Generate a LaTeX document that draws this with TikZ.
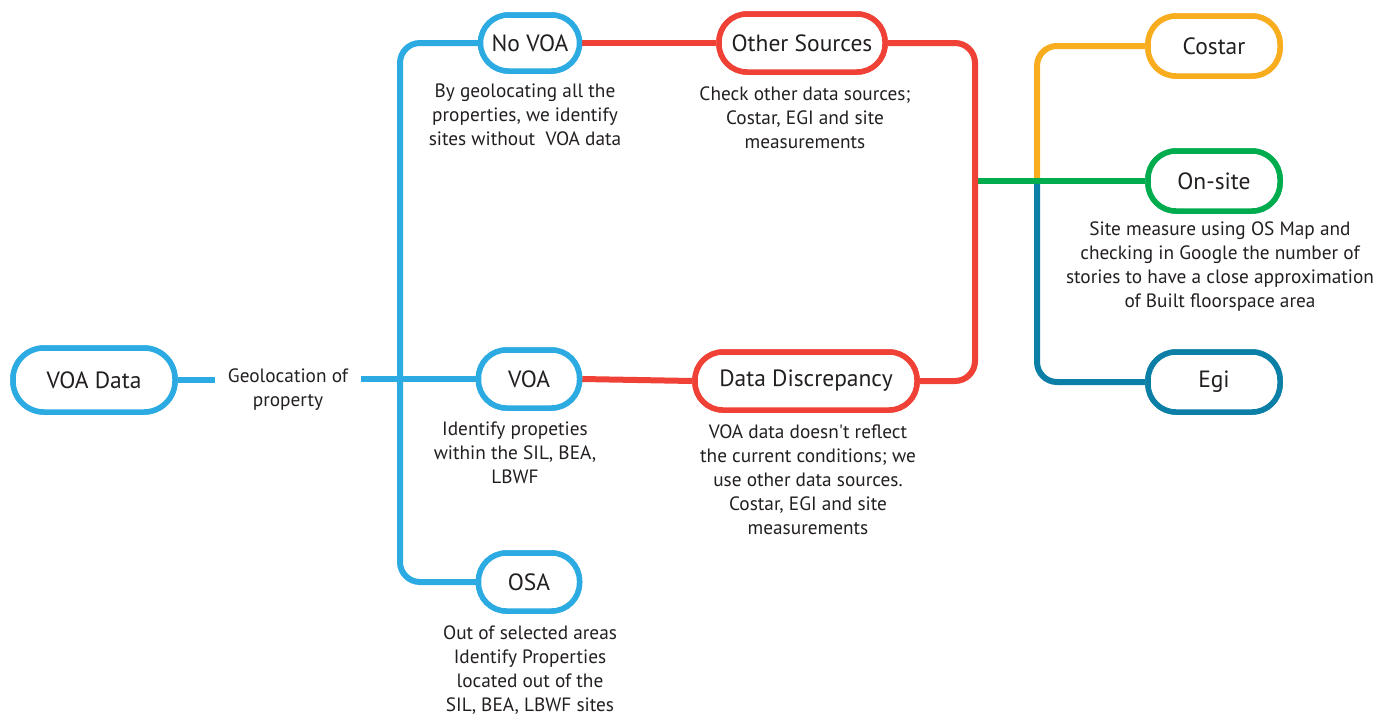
\documentclass[tikz,border=0pt]{standalone}
\usepackage{fontspec}
\setmainfont{PT Sans}
\definecolor{cblue}{HTML}{2CABE2}
\definecolor{cred}{HTML}{EF4136}
\definecolor{corange}{HTML}{F8AD1F}
\definecolor{cgreen}{HTML}{00AC4E}
\definecolor{cdblue}{HTML}{0B7FA6}
\definecolor{ctext}{HTML}{231F20}
\begin{document}
\begin{tikzpicture}[x=1pt,y=-1pt,
  pill/.style={draw, line width=5.5pt, rounded corners=28pt, minimum height=58pt, fill=white, inner sep=0pt, text=ctext, font=\fontsize{23.5}{27}\selectfont},
  desc/.style={align=center, text=ctext, inner sep=0pt, font=\fontsize{19.3}{24}\selectfont},
  conn/.style={line width=6pt, rounded corners=20pt}]
\useasboundingbox (0,0) rectangle (1378,715);
% nodes
\node[pill, draw=cblue, minimum width=162pt, minimum height=64pt, rounded corners=31pt] (voadata) at (94,380) {VOA Data};
\node[desc, minimum width=145pt] (geo) at (288,390) {Geolocation of\\property};
\node[pill, draw=cblue, minimum width=99pt, minimum height=56pt] (novoa) at (530,43) {No VOA};
\node[pill, draw=cred, minimum width=166pt] (other) at (802,43) {Other Sources};
\node[pill, draw=cblue, minimum width=101pt] (voa) at (529,379) {VOA};
\node[pill, draw=cred, minimum width=222pt] (disc) at (806,381) {Data Discrepancy};
\node[pill, draw=cblue, minimum width=101pt] (osa) at (529,582) {OSA};
\node[pill, draw=corange, minimum width=132pt, minimum height=60pt] (costar) at (1214,46) {Costar};
\node[pill, draw=cgreen, minimum width=132pt, minimum height=60pt] (onsite) at (1214,181) {On-site};
\node[pill, draw=cdblue, minimum width=132pt, minimum height=60pt] (egi) at (1214,382) {Egi};
% descriptions
\node[desc] (novoadesc) at (525,115) {By geolocating all the\\properties, we identify\\sites without \ VOA data};
\node[desc] (otherdesc) at (805,118) {Check other data sources;\\Costar, EGI and site\\measurements};
\node[desc] (voadesc) at (515,453) {Identify propeties\\within the SIL, BEA,\\LBWF};
\node[desc] (discdesc) at (808,480) {VOA data doesn\textquotesingle t reflect\\the current conditions; we\\use other data sources.\\Costar, EGI and site\\measurements};
\node[desc] (osadesc) at (530,670) {Out of selected areas\\Identify Properties\\located out of the\\SIL, BEA, LBWF sites};
\node[desc] (onsitedesc) at (1220,267) {Site measure using OS Map and\\checking in Google the number of\\stories to have a close approximation\\of Built floorspace area};
% junction coordinates
\coordinate (trunk) at (400,380);
\coordinate (redtrunk) at (975,181);
\coordinate (split) at (1037,181);
% connectors
\draw[conn, cblue] (voadata.east) -- (voadata.east -| geo.west);
\draw[conn, cblue] (geo.east |- voa.west) -- (voa.west);
\draw[conn, cblue] (novoa.west) -| (trunk) |- (osa.west);
\draw[conn, corange] (split) |- (costar.west);
\draw[conn, cdblue] (split) |- (egi.west);
\draw[conn, cgreen] (redtrunk) -- (onsite.west);
\draw[conn, cred] (novoa.east) -- (other.west);
\draw[conn, cred] (other.east) -| (redtrunk) |- (disc.east);
\draw[conn, cred] (voa.east) -- (disc.west);
% redraw nodes on top of connectors
\node[pill, draw=cblue, minimum width=162pt, minimum height=64pt, rounded corners=31pt] at (voadata) {VOA Data};
\node[pill, draw=cblue, minimum width=99pt, minimum height=56pt] at (novoa) {No VOA};
\node[pill, draw=cred, minimum width=166pt] at (other) {Other Sources};
\node[pill, draw=cblue, minimum width=101pt] at (voa) {VOA};
\node[pill, draw=cred, minimum width=222pt] at (disc) {Data Discrepancy};
\node[pill, draw=cblue, minimum width=101pt] at (osa) {OSA};
\node[pill, draw=corange, minimum width=132pt, minimum height=60pt] at (costar) {Costar};
\node[pill, draw=cgreen, minimum width=132pt, minimum height=60pt] at (onsite) {On-site};
\node[pill, draw=cdblue, minimum width=132pt, minimum height=60pt] at (egi) {Egi};
\end{tikzpicture}
\end{document}
